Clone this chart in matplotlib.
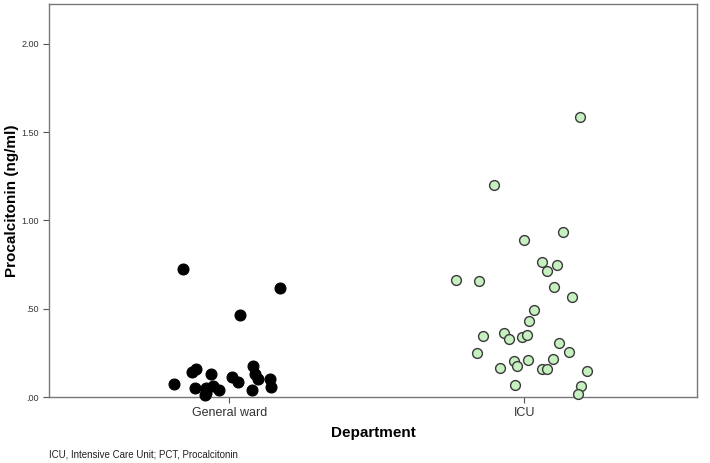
import numpy as np
import matplotlib.pyplot as plt

plt.rcParams['font.family'] = ['Liberation Sans', 'DejaVu Sans']

categories = ["General ward", "ICU"]

# General ward: (jitter offset, value)
gw_offset = [-0.156, 0.172, 0.037, -0.127, -0.111, -0.188, -0.116, -0.061, -0.080, -0.053,
             -0.035, -0.082, -0.077, 0.010, 0.031, 0.082, 0.087, 0.098, 0.077, 0.139, 0.143]
gw_pct = [0.725, 0.619, 0.464, 0.142, 0.157, 0.072, 0.053, 0.128, 0.053, 0.062,
          0.040, 0.011, 0.024, 0.111, 0.085, 0.176, 0.130, 0.100, 0.040, 0.100, 0.055]

# ICU
icu_offset = [0.187, -0.104, 0.129, -0.002, 0.061, 0.109, 0.075, -0.232, -0.154, 0.101,
              0.162, 0.032, 0.015, -0.140, -0.070, -0.054, -0.010, 0.010, 0.116, -0.161,
              0.150, -0.037, 0.012, 0.095, -0.084, -0.025, 0.060, 0.078, 0.212, -0.032,
              0.190, 0.181]
icu_pct = [1.585, 1.200, 0.934, 0.889, 0.766, 0.747, 0.715, 0.661, 0.659, 0.625,
           0.568, 0.493, 0.432, 0.345, 0.361, 0.330, 0.340, 0.351, 0.304, 0.251,
           0.253, 0.202, 0.209, 0.213, 0.166, 0.174, 0.157, 0.160, 0.147, 0.068,
           0.060, 0.019]

fig = plt.figure(figsize=(7.1, 4.63), dpi=100)
ax = fig.add_axes([0.069, 0.1425, 0.913, 0.8485])

ax.scatter(0 + np.array(gw_offset), gw_pct, s=62, c='black', edgecolors='black',
           linewidths=0.8, zorder=3, clip_on=False)
ax.scatter(1 + np.array(icu_offset), icu_pct, s=50, c='#c6f0c0', edgecolors='#3a3a3a',
           linewidths=1.0, zorder=3, clip_on=False)

ax.set_xlim(-0.61, 1.585)
ax.set_ylim(0, 2.225)
ax.set_xticks([0, 1])
ax.set_xticklabels(categories, fontsize=9, color='#333333')
ax.set_yticks([0, 0.5, 1.0, 1.5, 2.0])
ax.set_yticklabels(['.00', '.50', '1.00', '1.50', '2.00'], fontsize=6.5, color='#333333')
ax.tick_params(axis='both', length=4, width=0.8, color='#555555')

for sp in ax.spines.values():
    sp.set_color('#777777')
    sp.set_linewidth(1.0)

ax.set_ylabel('Procalcitonin (ng/ml)', fontsize=11, fontweight='bold')
ax.yaxis.set_label_coords(-0.046, 0.5)
ax.set_xlabel('Department', fontsize=11, fontweight='bold', labelpad=5)

fig.text(0.069, 0.012, 'ICU, Intensive Care Unit; PCT, Procalcitonin', fontsize=7, color='#222222')

fig.savefig('out.png', dpi=100)
